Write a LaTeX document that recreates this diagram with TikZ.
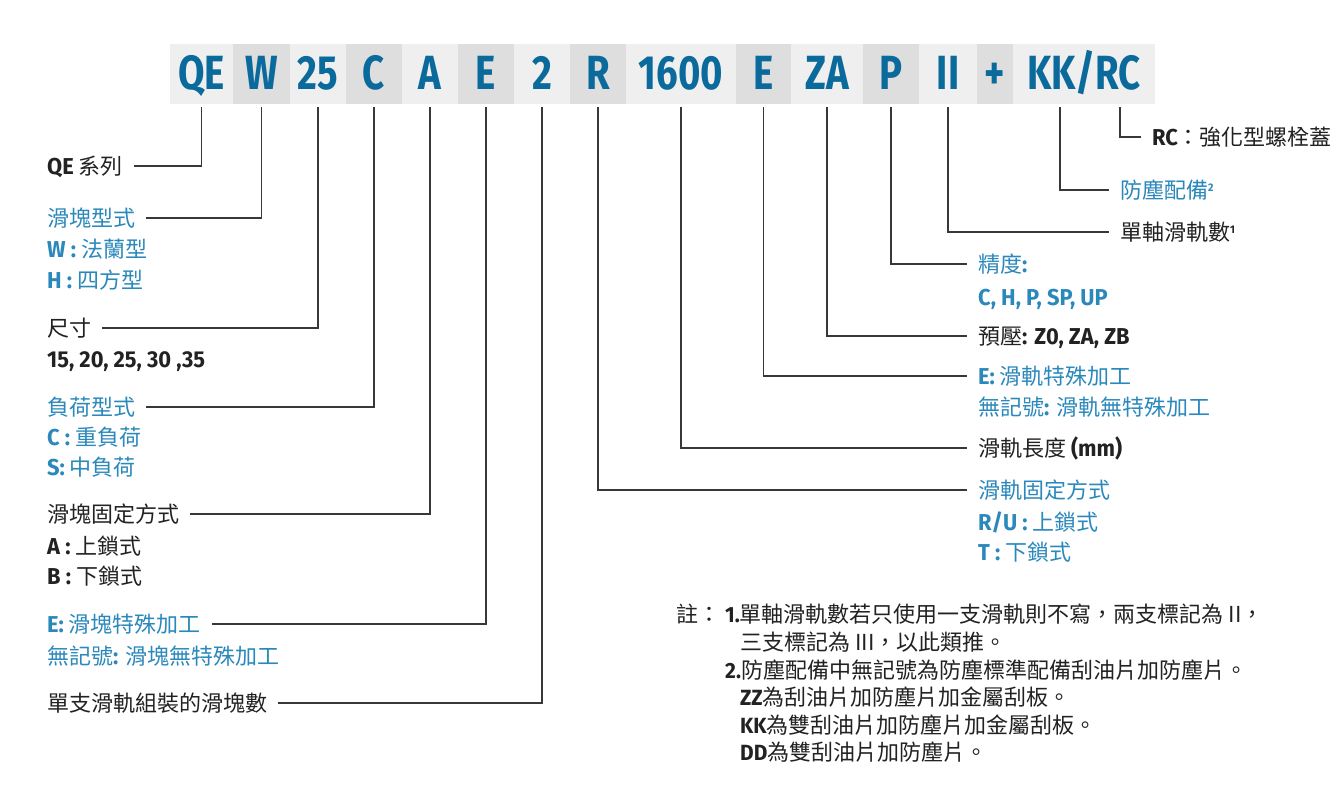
\documentclass[tikz,border=0pt]{standalone}
\usepackage{fontspec}
\setmainfont{Noto Sans CJK TC}
\newfontfamily\hd[FakeStretch=0.8]{Fira Sans}
\newfontfamily\lat[FakeStretch=0.95]{Fira Sans}
\definecolor{codeblue}{HTML}{0B6A9C}
\definecolor{labblue}{HTML}{2A88BB}
\definecolor{cellA}{HTML}{EFEFEF}
\definecolor{cellB}{HTML}{DEDEDE}
\definecolor{ink}{HTML}{222222}
\definecolor{wirecol}{HTML}{383838}
\newcommand{\en}[1]{{\lat\bfseries\fontsize{23}{26}\selectfont #1}}
\newcommand{\enn}[1]{{\lat\bfseries\fontsize{22}{24}\selectfont #1}}
\newcommand{\sups}[1]{\raisebox{7pt}{\lat\bfseries\fontsize{11}{12}\selectfont #1}}
\newcommand{\codecell}[5] % name, left px, right px, shade, text
{
	% shaded cell of the order code
	\node[cell, fill=#4, minimum width={#3-#2}] (#1) at ({(#2+#3)/2},74) {#5};
}

\begin{document}
\begin{tikzpicture}[x=1pt, y=-1pt,
	cell/.style={minimum height=60, inner sep=0, text height=33pt, text depth=2pt, text=codeblue, font=\hd\bfseries\fontsize{48}{52}\selectfont},
	lab/.style={anchor=west, inner sep=0, text height=19pt, text depth=3pt, text=ink, font=\fontsize{22}{26}\selectfont},
	bluelab/.style={lab, text=labblue},
	note/.style={anchor=west, inner sep=0, text height=19pt, text depth=3pt, text=ink, font=\fontsize{22}{25}\selectfont},
	wire/.style={draw=wirecol, line width=1.5pt, shorten <=3pt, shorten >=11pt}]
	% 1341 x 788 px, y downwards
	\fill[white] (0,0) rectangle (1341,788);
	\useasboundingbox (0,0) rectangle (1341,788);

	% order code
	\codecell{qe}{170}{233}{cellA}{QE}
	\codecell{wtype}{233}{290}{cellB}{W}
	\codecell{size}{290}{346}{cellA}{25}
	\codecell{load}{346}{402}{cellB}{C}
	\codecell{fix}{402}{458}{cellA}{A}
	\codecell{blkE}{458}{514}{cellB}{E}
	\codecell{blkNum}{514}{570}{cellA}{2}
	\codecell{rail}{570}{626}{cellB}{R}
	\codecell{len}{626}{736}{cellA}{1600}
	\codecell{railE}{736}{791}{cellB}{E}
	\codecell{pre}{791}{863}{cellA}{ZA}
	\codecell{acc}{863}{919}{cellB}{P}
	\codecell{rails}{919}{977}{cellA}{II}
	\codecell{plus}{977}{1013}{cellB}{+}
	\codecell{dust}{1013}{1155}{cellA}{KK/RC}

	% left labels
	\node[lab] (qeLab) at (47,166) {\en{QE} 系列};
	\node[bluelab] (wtypeLab) at (47,218) {滑塊型式};
	\node[bluelab] at (47,249) {\en{W :} 法蘭型};
	\node[bluelab] at (47,280) {\en{H :} 四方型};
	\node[lab] (sizeLab) at (47,328) {尺寸};
	\node[lab] at (47,359) {\en{15, 20, 25, 30 ,35}};
	\node[bluelab] (loadLab) at (47,407) {負荷型式};
	\node[bluelab] at (47,437) {\en{C :} 重負荷};
	\node[bluelab] at (47,467) {\en{S:} 中負荷};
	\node[lab] (fixLab) at (47,514) {滑塊固定方式};
	\node[lab] at (47,546) {\en{A :} 上鎖式};
	\node[lab] at (47,576) {\en{B :} 下鎖式};
	\node[bluelab] (blkELab) at (47,624) {\en{E:} 滑塊特殊加工};
	\node[bluelab] at (47,656) {無記號\en{:} 滑塊無特殊加工};
	\node[lab] (blkNumLab) at (47,703) {單支滑軌組裝的滑塊數};

	% right labels
	\node[lab] (rcLab) at (1152,137) {\en{RC}：強化型螺栓蓋};
	\node[bluelab] (dustLab) at (1120,190) {防塵配備\sups{2}};
	\node[lab] (railsLab) at (1120,232) {單軸滑軌數\sups{1}};
	\node[bluelab] (accLab) at (978,264) {精度\en{:}};
	\node[bluelab] at (978,297) {\en{C, H, P, SP, UP}};
	\node[lab] (preLab) at (978,336) {預壓\en{: Z0, ZA, ZB}};
	\node[bluelab] (railELab) at (978,376) {\en{E:} 滑軌特殊加工};
	\node[bluelab] at (978,407) {無記號\en{:} 滑軌無特殊加工};
	\node[lab] (lenLab) at (978,448) {滑軌長度 \en{(mm)}};
	\node[bluelab] (railLab) at (978,490) {滑軌固定方式};
	\node[bluelab] at (978,522) {\en{R/U :} 上鎖式};
	\node[bluelab] at (978,552) {\en{T :} 下鎖式};

	% connectors
	\draw[wire] (qe.south) |- (qeLab.east);
	\draw[wire] (wtype.south) |- (wtypeLab.east);
	\draw[wire] (size.south) |- (sizeLab.east);
	\draw[wire] (load.south) |- (loadLab.east);
	\draw[wire] (fix.south) |- (fixLab.east);
	\draw[wire] (blkE.south) |- (blkELab.east);
	\draw[wire] (blkNum.south) |- (blkNumLab.east);
	\draw[wire] (rail.south) |- (railLab.west);
	\draw[wire] (len.south) |- (lenLab.west);
	\draw[wire] (railE.south) |- (railELab.west);
	\draw[wire] (pre.south) |- (preLab.west);
	\draw[wire] (acc.south) |- (accLab.west);
	\draw[wire] (rails.south) |- (railsLab.west);
	\draw[wire] ([xshift=-24pt]dust.south) |- (dustLab.west);
	\draw[wire] ([xshift=36pt]dust.south) |- (rcLab.west);

	% notes
	\node[note] (noteHead) at (676,614) {註：};
	\node[note] (note1) at (725,614) {\enn{1.}單軸滑軌數若只使用一支滑軌則不寫，兩支標記為 II，};
	\node[note] at (740,642) {三支標記為 III，以此類推。};
	\node[note] (note2) at (725,670) {\enn{2.}防塵配備中無記號為防塵標準配備刮油片加防塵片。};
	\node[note] at (740,697) {\enn{ZZ}為刮油片加防塵片加金屬刮板。};
	\node[note] at (740,725) {\enn{KK}為雙刮油片加防塵片加金屬刮板。};
	\node[note] at (740,752) {\enn{DD}為雙刮油片加防塵片。};
\end{tikzpicture}
\end{document}
